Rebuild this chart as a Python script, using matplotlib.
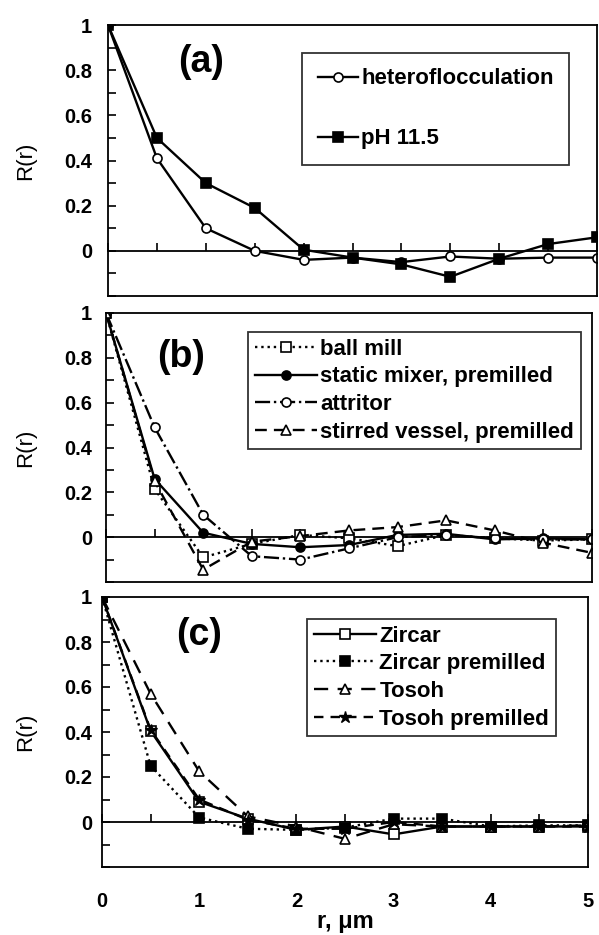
import matplotlib
matplotlib.use("Agg")
import matplotlib.pyplot as plt
from matplotlib.ticker import MultipleLocator, FixedLocator, NullFormatter

plt.rcParams['font.family'] = ['Liberation Sans', 'DejaVu Sans']
plt.rcParams['font.weight'] = 'bold'

r = [0, 0.5, 1.0, 1.5, 2.0, 2.5, 3.0, 3.5, 4.0, 4.5, 5.0]

# Panel (a)
hetero = [1.0, 0.41, 0.10, 0.0, -0.04, -0.03, -0.05, -0.025, -0.035, -0.03, -0.03]
ph115 = [1.0, 0.50, 0.30, 0.19, 0.005, -0.03, -0.06, -0.115, -0.035, 0.03, 0.06]

# Panel (b)
ball_mill = [1.0, 0.215, -0.09, -0.03, 0.01, -0.005, -0.04, 0.01, -0.005, -0.015, -0.01]
static_mixer = [1.0, 0.26, 0.02, -0.03, -0.045, -0.035, 0.01, 0.015, -0.01, -0.005, -0.01]
attritor = [1.0, 0.49, 0.10, -0.085, -0.10, -0.05, 0.0, 0.01, -0.005, -0.01, -0.01]
stirred = [1.0, 0.25, -0.145, -0.02, 0.005, 0.03, 0.045, 0.075, 0.03, -0.025, -0.07]

# Panel (c)
zircar = [1.0, 0.405, 0.09, 0.015, -0.035, -0.02, -0.055, -0.02, -0.02, -0.02, -0.02]
zircar_pm = [1.0, 0.25, 0.02, -0.03, -0.035, -0.025, 0.015, 0.015, -0.02, -0.015, -0.015]
tosoh = [1.0, 0.57, 0.225, 0.025, -0.02, -0.075, -0.01, -0.02, -0.02, -0.02, -0.015]
tosoh_pm = [1.0, 0.41, 0.10, 0.01, -0.03, -0.03, 0.0, -0.02, -0.02, -0.02, -0.02]

labels_a = ["heteroflocculation", "pH 11.5"]
labels_b = ["ball mill", "static mixer, premilled", "attritor", "stirred vessel, premilled"]
labels_c = ["Zircar", "Zircar premilled", "Tosoh", "Tosoh premilled"]
ytick_vals = [0, 0.2, 0.4, 0.6, 0.8, 1.0]
ytick_text = ['0', '0.2', '0.4', '0.6', '0.8', '1']
xtick_vals = [0, 1, 2, 3, 4, 5]

W, H = 599, 935
fig = plt.figure(figsize=(W / 100, H / 100), dpi=100)

# (left, right, top, bottom) in pixels
boxes = [(108, 597, 25, 296), (106, 592, 313, 582), (102, 588, 597, 867)]
axes = [fig.add_axes([l / W, 1 - b / H, (r_ - l) / W, (b - t) / H]) for l, r_, t, b in boxes]

def style_ax(ax, box, show_x):
    l, r_, t, b = box
    ax.set_xlim(0, 5)
    ax.set_ylim(-0.2, 1.0)
    ax.yaxis.set_major_locator(FixedLocator(ytick_vals))
    ax.yaxis.set_minor_locator(MultipleLocator(0.1))
    ax.set_yticklabels(ytick_text)
    ypad_px = l - 92
    ax.tick_params(axis='y', which='both', direction='in', length=6, width=1.2,
                   labelsize=14.5, pad=ypad_px * 0.72)
    for s in ax.spines.values():
        s.set_linewidth(1.3)
    ax.xaxis.set_major_locator(FixedLocator(xtick_vals))
    ax.tick_params(axis='x', which='both', length=0, labelsize=14.5, pad=18)
    if not show_x:
        ax.xaxis.set_major_formatter(NullFormatter())
    sec = ax.secondary_xaxis(0.2 / 1.2)
    sec.xaxis.set_major_locator(MultipleLocator(0.5))
    sec.xaxis.set_major_formatter(NullFormatter())
    sec.tick_params(axis='x', direction='in', length=6, width=1.2)
    sec.spines['bottom'].set_linewidth(1.3)
    ax.set_ylabel('R(r)', fontsize=16, fontweight='normal')
    ax.yaxis.set_label_coords((36 - l) / (r_ - l), 0.5)
    for lab in ax.get_yticklabels() + ax.get_xticklabels():
        lab.set_fontweight('bold')

mk = dict(markersize=6.5, markeredgewidth=1.2, color='black')
legkw = dict(loc='upper left', borderaxespad=0, fancybox=False, edgecolor='black',
             fontsize=16, handletextpad=0.15)

# (a)
ax = axes[0]
style_ax(ax, boxes[0], False)
ax.plot(r, hetero, '-', marker='o', mfc='white', lw=1.7, label=labels_a[0], **mk)
ax.plot(r, ph115, '-', marker='s', mfc='black', lw=1.7, label=labels_a[1], **mk)
ax.text(0.19, 0.862, '(a)', transform=ax.transAxes, fontsize=27, fontweight='bold',
        ha='center', va='center')
leg = ax.legend(bbox_to_anchor=(0.397, 0.897), handlelength=1.8,
                labelspacing=1.75, borderpad=0.7, **legkw)
leg.get_frame().set_linewidth(1.3)

# (b)
ax = axes[1]
style_ax(ax, boxes[1], False)
ax.plot(r, ball_mill, ':', marker='s', mfc='white', lw=1.7, label=labels_b[0], **mk)
ax.plot(r, static_mixer, '-', marker='o', mfc='black', lw=1.7, label=labels_b[1], **mk)
ax.plot(r, attritor, '-.', marker='o', mfc='white', lw=1.7, label=labels_b[2], **mk)
ax.plot(r, stirred, '--', marker='^', mfc='white', lw=1.7, dashes=(5, 3), label=labels_b[3], **mk)
ax.text(0.155, 0.835, '(b)', transform=ax.transAxes, fontsize=27, fontweight='bold',
        ha='center', va='center')
leg = ax.legend(bbox_to_anchor=(0.292, 0.929), handlelength=2.8,
                labelspacing=0.3, borderpad=0.3, **legkw)
leg.get_frame().set_linewidth(1.3)

# (c)
ax = axes[2]
style_ax(ax, boxes[2], True)
ax.plot(r, zircar, '-', marker='s', mfc='white', lw=1.7, label=labels_c[0], **mk)
ax.plot(r, zircar_pm, ':', marker='s', mfc='black', lw=1.7, label=labels_c[1], **mk)
ax.plot(r, tosoh, '--', marker='^', mfc='white', lw=1.7, dashes=(6, 4), label=labels_c[2], **mk)
ax.plot(r, tosoh_pm, '--', marker='*', mfc='black', lw=1.7, dashes=(4, 3), label=labels_c[3],
        markersize=9, markeredgewidth=1.0, color='black')
ax.text(0.2, 0.86, '(c)', transform=ax.transAxes, fontsize=27, fontweight='bold',
        ha='center', va='center')
leg = ax.legend(bbox_to_anchor=(0.422, 0.919), handlelength=2.8,
                labelspacing=0.3, borderpad=0.3, **legkw)
leg.get_frame().set_linewidth(1.3)
ax.set_xlabel('r, μm', fontsize=17, fontweight='bold')
ax.xaxis.set_label_coords(0.5, (867 - 910) / 270)

fig.savefig('out.png', dpi=100)
